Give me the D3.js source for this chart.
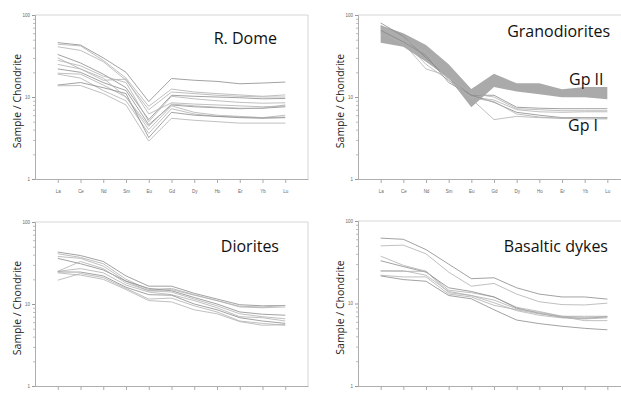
<!DOCTYPE html>
<html>
<head>
<meta charset="utf-8">
<script src="https://cdn.jsdelivr.net/npm/d3@7/dist/d3.min.js"></script>
<style>
  body { margin: 0; background: #fff; }
  svg { display: block; font-family: "Open Sans", "Liberation Sans", sans-serif; }
</style>
</head>
<body>
<div id="chart"></div>
<script>
// REE order on the x axis
const elements = ["La", "Ce", "Nd", "Sm", "Eu", "Gd", "Dy", "Ho", "Er", "Yb", "Lu"];
const yTickValues = [1, 10, 100];
const yTickLabels = ["1", "10", "100"];
const minorTicks = [2, 3, 4, 5, 6, 7, 8, 9, 20, 30, 40, 50, 60, 70, 80, 90];

// R. Dome samples (chondrite normalised)
const domeSamples = [
  [46, 43, 30, 20, 8.8, 16.8, 16, 15.5, 14.5, 14.8, 15.2],
  [44, 42, 28, 17, 7.7, 12.5, 11.5, 11, 10.6, 10.2, 10.6],
  [41, 37, 27, 16, 7.0, 11.5, 11, 10.5, 10.2, 10, 10],
  [33, 26, 19, 13, 5.3, 10.5, 10.2, 10, 9.8, 9.5, 9.6],
  [28, 24, 18, 15, 5.0, 10.2, 9.5, 9, 8.6, 8.4, 8.5],
  [25, 22, 16, 16.5, 6.2, 8.5, 8.2, 8, 7.8, 7.6, 7.8],
  [22, 20, 15, 12, 4.6, 8.0, 7.6, 7.4, 7.2, 7.3, 7.6],
  [19.5, 19, 14, 10, 4.0, 7.8, 6.5, 6, 5.8, 5.6, 6.0],
  [19, 17, 12, 9, 3.6, 7.2, 6.2, 5.8, 5.7, 5.6, 5.7],
  [14, 15, 13, 11, 3.2, 6.5, 6, 5.8, 5.6, 5.5, 5.6],
  [13.7, 13.8, 11, 8, 2.9, 5.5, 5.2, 5.0, 4.8, 4.8, 4.8],
  [30, 22, 17, 10, 4.4, 8.2, 7.8, 7.5, 7.3, 7.3, 8.0]
];

// Granodiorites: Gp II envelope (upper / lower) and Gp I samples
const gp2Upper = [75, 60, 43, 25, 12.5, 19.2, 14.7, 14.7, 12.4, 13.2, 13.2];
const gp2Lower = [46, 41, 27, 17, 7.5, 13.2, 11.7, 10.8, 9.9, 9.9, 9.4];
const gp1Samples = [
  [80, 55, 30, 17, 10.5, 10.5, 7.5, 7.3, 7.2, 7.2, 7.2],
  [75, 50, 28, 17, 11, 10, 7.2, 7, 6.8, 6.8, 6.8],
  [70, 48, 25, 16, 10, 9.2, 7, 6.6, 6.5, 6.6, 6.6],
  [65, 47, 32, 15, 10.5, 8.6, 6.5, 6, 5.6, 5.6, 5.6],
  [60, 45, 22, 18, 9.5, 5.3, 5.8, 5.6, 5.5, 5.6, 5.5],
  [72, 52, 35, 16, 9.8, 8.8, 6.2, 5.7, 5.5, 5.4, 5.4]
];

// Diorites samples
const dioriteSamples = [
  [43, 39, 33, 22, 16.5, 16.5, 13.5, 11.5, 9.8, 9.5, 9.6],
  [41, 37, 31, 20, 15, 15.5, 13, 11, 9.2, 9.0, 9.2],
  [38, 36, 29, 19, 14.5, 15, 12.8, 11, 9.4, 9.2, 9.6],
  [36, 31, 26, 19, 15.5, 14.5, 12, 10, 8, 7.5, 7.3],
  [25, 33, 27, 18, 14.5, 14, 11.5, 9.5, 7.6, 7, 6.6],
  [25, 27, 24, 17, 14, 13, 11, 9, 7, 6.8, 6.2],
  [24.6, 24.5, 22, 16, 13, 12.8, 10, 8.5, 6.8, 6.2, 5.8],
  [19.5, 23.5, 21, 15.5, 11.5, 11.8, 9.5, 8, 6.2, 5.8, 5.5],
  [24, 22.5, 20, 15, 11, 10.6, 8.5, 7.6, 6.1, 5.5, 5.6]
];

// Basaltic dykes samples
const dykeSamples = [
  [62, 60, 45, 30, 20, 20.5, 15.5, 13, 12, 12, 11.3],
  [50, 51, 40, 24, 16.2, 17.5, 13, 10.5, 9.7, 9.6, 10.1],
  [37.5, 29, 24.6, 14.5, 13.5, 12, 9, 8, 7, 7, 7],
  [33, 28, 24, 15.5, 14, 12, 8.8, 7.6, 6.8, 6.6, 6.9],
  [24.6, 24.5, 24.6, 13.5, 12.5, 10.2, 8.2, 7.2, 6.7, 6.5, 6.7],
  [22, 21, 21, 13, 12, 9.5, 8.4, 7.5, 6.9, 6.2, 6.2],
  [21.6, 19.5, 18.6, 12.5, 11.4, 8.4, 6.3, 5.7, 5.3, 5.0, 4.8],
  [25, 25, 22, 14, 12.5, 11, 8.6, 7.8, 7, 6.8, 6.9]
];

const svg = d3.select('#chart')
  .append('svg')
  .attr('width', 621)
  .attr('height', 396);

const panels = [
  { left: 35, top: 15, bottom: 179, right: 308, title: 'R. Dome', titleX: 277, titleY: 44, lines: domeSamples },
  { left: 358, top: 15, bottom: 179, right: 630, title: 'Granodiorites', titleX: 610, titleY: 37, lines: gp1Samples, band: true },
  { left: 35, top: 222, bottom: 386, right: 308, title: 'Diorites', titleX: 279, titleY: 252, lines: dioriteSamples },
  { left: 358, top: 221, bottom: 386, right: 630, title: 'Basaltic dykes', titleX: 608, titleY: 252, lines: dykeSamples }
];

panels.forEach(p => drawPanel(p));

function drawPanel(p) {
  const g = svg.append('g');

  const x = d3.scaleLinear()
    .domain([-1, elements.length])
    .range([p.left, p.right]);

  const y = d3.scaleLog()
    .domain([1, 100])
    .range([p.bottom, p.top]);

  // frame (top + right)
  g.append('path')
    .attr('d', `M${p.left},${p.top}H${p.right}V${p.bottom}`)
    .attr('fill', 'none')
    .attr('stroke', '#ccc')
    .attr('stroke-width', 0.8);

  // left axis, major ticks
  const yAxis = g.append('g')
    .attr('transform', `translate(${p.left},0)`)
    .call(d3.axisLeft(y)
      .tickValues(yTickValues)
      .tickFormat((d, i) => yTickLabels[i])
      .tickSize(3)
      .tickPadding(2));
  yAxis.select('.domain').attr('stroke', '#999').attr('stroke-width', 0.8);
  yAxis.selectAll('.tick line').attr('stroke', '#999');
  yAxis.selectAll('.tick text').attr('font-size', '4.5px').attr('fill', '#666');

  // minor ticks
  g.append('g')
    .attr('transform', `translate(${p.left},0)`)
    .call(d3.axisLeft(y).tickValues(minorTicks).tickSize(2).tickFormat(''))
    .call(a => a.select('.domain').remove())
    .selectAll('.tick line').attr('stroke', '#bbb');

  // bottom axis with element names
  const xAxis = g.append('g')
    .attr('transform', `translate(0,${p.bottom})`)
    .call(d3.axisBottom(x)
      .tickValues(d3.range(elements.length))
      .tickFormat(i => elements[i])
      .tickSizeInner(4)
      .tickSizeOuter(0)
      .tickPadding(7));
  xAxis.select('.domain').attr('stroke', '#999').attr('stroke-width', 0.8);
  xAxis.selectAll('.tick line').attr('stroke', '#aaa');
  xAxis.selectAll('.tick text').attr('font-size', '4.5px').attr('fill', '#666');

  const line = d3.line()
    .x((d, i) => x(i))
    .y(d => y(d));

  if (p.band) {
    const area = d3.area()
      .x((d, i) => x(i))
      .y0((d, i) => y(gp2Lower[i]))
      .y1(d => y(d));
    g.append('path')
      .datum(gp2Upper)
      .attr('d', area)
      .attr('fill', '#aaa');
  }

  g.selectAll('.sample')
    .data(p.lines)
    .enter()
    .append('path')
    .attr('class', 'sample')
    .attr('d', line)
    .attr('fill', 'none')
    .attr('stroke', (d, i) => i % 3 === 0 ? '#8a8a8a' : '#b0b0b0')
    .attr('stroke-width', 0.8);

  g.append('text')
    .attr('x', p.titleX)
    .attr('y', p.titleY)
    .attr('text-anchor', 'end')
    .attr('font-size', '16px')
    .attr('fill', '#111')
    .text(p.title);

  g.append('text')
    .attr('transform', `translate(${p.left - 14},${(p.top + p.bottom) / 2 + 4}) rotate(-90)`)
    .attr('text-anchor', 'middle')
    .attr('font-size', '10.5px')
    .attr('fill', '#222')
    .text('Sample / Chondrite');

  if (p.band) {
    g.append('text')
      .attr('x', 569).attr('y', 85)
      .attr('font-size', '16px').attr('fill', '#111')
      .text('Gp II');
    g.append('text')
      .attr('x', 568).attr('y', 131)
      .attr('font-size', '16px').attr('fill', '#111')
      .text('Gp I');
  }
}
</script>
</body>
</html>
